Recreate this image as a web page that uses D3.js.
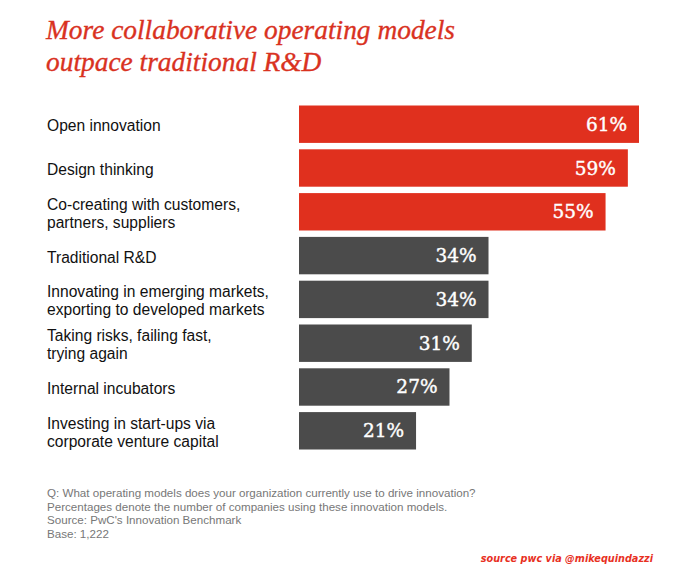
<!DOCTYPE html>
<html><head><meta charset="utf-8">
<script src="https://cdn.jsdelivr.net/npm/d3@7"></script>
<style>html,body{margin:0;padding:0;background:#fff;}</style>
</head><body>
<script>
const categories = [
  ["Open innovation"],
  ["Design thinking"],
  ["Co-creating with customers,", "partners, suppliers"],
  ["Traditional R&D"],
  ["Innovating in emerging markets,", "exporting to developed markets"],
  ["Taking risks, failing fast,", "trying again"],
  ["Internal incubators"],
  ["Investing in start-ups via", "corporate venture capital"]
];
const values = [61, 59, 55, 34, 34, 31, 27, 21];
const collaborative = [true, true, true, false, false, false, false, false];
const titleLines = ["More collaborative operating models", "outpace traditional R&D"];
const footnotes = [
  "Q: What operating models does your organization currently use to drive innovation?",
  "Percentages denote the number of companies using these innovation models.",
  "Source: PwC's Innovation Benchmark",
  "Base: 1,222"
];
const credit = "source pwc via @mikequindazzi";

const W = 680, H = 570;
const svg = d3.select("body").append("svg").attr("width", W).attr("height", H);

const RED = "#e0301e", GRAY = "#4b4b4b";

// title
const title = svg.append("g");
titleLines.forEach((t, i) => {
  title.append("text")
    .attr("x", 46).attr("y", 39 + i * 32)
    .attr("font-family", "Liberation Serif")
    .attr("font-style", "italic")
    .attr("font-size", 27.4)
    .attr("fill", "#d9321f")
    .attr("stroke", "#d9321f")
    .attr("stroke-width", 0.35)
    .text(t);
});

const x = d3.scaleLinear().domain([0, 61]).range([299, 639]);
const y = d3.scaleBand().domain(d3.range(values.length)).range([105.5, 449.5]).paddingInner(0.146).paddingOuter(0);

const g = svg.append("g");
g.selectAll("rect").data(values).join("rect")
  .attr("x", x(0))
  .attr("y", (d, i) => y(i))
  .attr("width", d => x(d) - x(0))
  .attr("height", y.bandwidth())
  .attr("fill", (d, i) => collaborative[i] ? RED : GRAY);

g.selectAll("text.val").data(values).join("text")
  .attr("class", "val")
  .attr("x", d => x(d) - 12)
  .attr("y", (d, i) => y(i) + y.bandwidth() / 2 + 6.5)
  .attr("text-anchor", "end")
  .attr("font-family", "DejaVu Serif")
  .attr("font-size", 18.5)
  .attr("fill", "#fff")
  .attr("stroke", "#fff")
  .attr("stroke-width", 0.4)
  .text(d => d + "%");

categories.forEach((lines, i) => {
  const cy = y(i) + y.bandwidth() / 2;
  const n = lines.length;
  lines.forEach((l, j) => {
    svg.append("text")
      .attr("x", 47)
      .attr("y", cy + 7 + (j - (n - 1) / 2) * 18)
      .attr("font-family", "Liberation Sans, Arial, sans-serif")
      .attr("font-size", 15.6)
      .attr("fill", "#111")
      .text(l);
  });
});

footnotes.forEach((t, i) => {
  svg.append("text")
    .attr("x", 47).attr("y", 497 + i * 13.5)
    .attr("font-family", "Liberation Sans, Arial, sans-serif")
    .attr("font-size", 11.6)
    .attr("fill", "#777")
    .text(t);
});

svg.append("text")
  .attr("x", 653).attr("y", 562)
  .attr("text-anchor", "end")
  .attr("font-family", "DejaVu Sans")
  .attr("font-weight", "bold")
  .attr("font-style", "italic")
  .attr("font-size", 9.7)
  .attr("fill", "#e8311f")
  .text(credit);
</script>
</body></html>
